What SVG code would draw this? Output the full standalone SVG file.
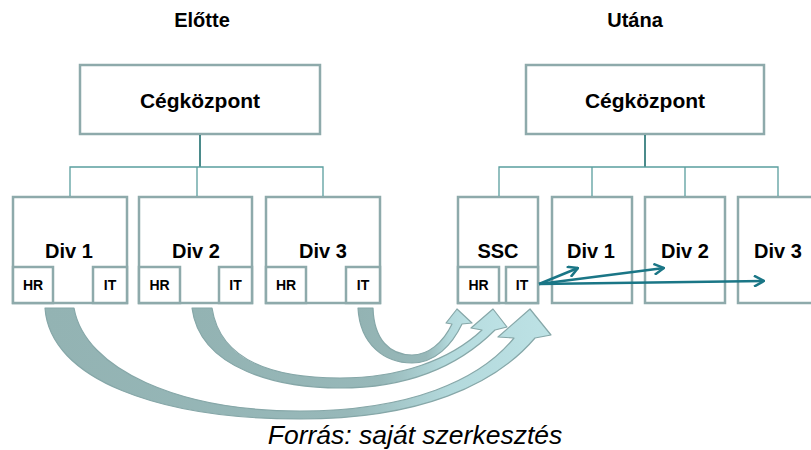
<svg xmlns="http://www.w3.org/2000/svg" width="811" height="450" viewBox="0 0 811 450">
<style>
.box{fill:#fff;stroke:#8eaaab;stroke-width:2.5}
.t{font-family:"Liberation Sans",Arial,sans-serif;font-weight:bold;text-anchor:middle;fill:#000}
.big{font-size:21px}
.div{font-size:20px}
.sm{font-size:14px}
.title{font-size:20px}
.con{fill:none;stroke:#5a9e9e;stroke-width:1.3}
.stem{fill:none;stroke:#1e6e6e;stroke-width:1.6}
.ar{fill:none;stroke:#1a7686;stroke-width:2.5;marker-end:url(#chev)}
.blk{stroke:#86a7a8;stroke-width:1.2;stroke-linejoin:round}
</style>
<defs>
<marker id="chev" viewBox="0 0 12 12" refX="11" refY="6" markerWidth="12" markerHeight="12" markerUnits="userSpaceOnUse" orient="auto">
<path d="M1,0.5 L11,6 L1,11.5" fill="none" stroke="#1a7686" stroke-width="2.5"/>
</marker>
<linearGradient id="g" x1="0" y1="0" x2="1" y2="0">
<stop offset="0" stop-color="#93b3b3"/>
<stop offset="0.6" stop-color="#97b8b9"/>
<stop offset="0.8" stop-color="#b3d9dc"/>
<stop offset="1" stop-color="#bde2e5"/>
</linearGradient>
</defs>
<rect width="811" height="450" fill="#fff"/>
<text class="t title" x="202" y="27">Előtte</text>
<text class="t title" x="635" y="27">Utána</text>

<g id="hq-before">
<rect class="box" x="80" y="65" width="240" height="69"/>
<text class="t big" x="200" y="108">Cégközpont</text>
</g>
<g id="div1-before">
<rect class="box" x="13" y="197" width="114" height="106"/>
<text class="t div" x="69" y="258">Div 1</text>
<g id="div1-hr"><rect class="box" x="13" y="267" width="40" height="36"/><text class="t sm" x="33" y="290">HR</text></g>
<g id="div1-it"><rect class="box" x="93" y="267" width="34" height="36"/><text class="t sm" x="110" y="290">IT</text></g>
</g>
<g id="div2-before">
<rect class="box" x="139" y="197" width="113" height="106"/>
<text class="t div" x="196" y="258">Div 2</text>
<g id="div2-hr"><rect class="box" x="139" y="267" width="41" height="36"/><text class="t sm" x="159.5" y="290">HR</text></g>
<g id="div2-it"><rect class="box" x="219" y="267" width="33" height="36"/><text class="t sm" x="235.5" y="290">IT</text></g>
</g>
<g id="div3-before">
<rect class="box" x="266" y="197" width="114" height="106"/>
<text class="t div" x="323" y="258">Div 3</text>
<g id="div3-hr"><rect class="box" x="266" y="267" width="40" height="36"/><text class="t sm" x="286" y="290">HR</text></g>
<g id="div3-it"><rect class="box" x="346" y="267" width="34" height="36"/><text class="t sm" x="363" y="290">IT</text></g>
</g>

<g id="hq-after">
<rect class="box" x="526" y="65" width="238" height="69"/>
<text class="t big" x="645" y="108">Cégközpont</text>
</g>
<g id="ssc">
<rect class="box" x="458" y="197" width="80" height="106"/>
<text class="t div" x="498" y="258">SSC</text>
<g id="ssc-hr"><rect class="box" x="458" y="267" width="41" height="36"/><text class="t sm" x="478.5" y="290">HR</text></g>
<g id="ssc-it"><rect class="box" x="506" y="267" width="32" height="36"/><text class="t sm" x="522" y="290">IT</text></g>
</g>
<g id="div1-after">
<rect class="box" x="552" y="197" width="80" height="106"/>
<text class="t div" x="591" y="258">Div 1</text>
</g>
<g id="div2-after">
<rect class="box" x="645" y="197" width="80" height="106"/>
<text class="t div" x="685" y="258">Div 2</text>
</g>
<g id="div3-after">
<rect class="box" x="738" y="197" width="80" height="106"/>
<text class="t div" x="778" y="258">Div 3</text>
</g>

<g id="connectors">
<path class="stem" d="M200,135 V167"/>
<path class="con" d="M70,196 V167 H323 V196 M197,167 V196"/>
<path class="stem" d="M645,135 V167"/>
<path class="con" d="M499,196 V167 H778 V196 M592,167 V196 M685,167 V196"/>
<path class="ar" d="M539,284 L578,268"/>
<path class="ar" d="M539,284 L664,268"/>
<path class="ar" d="M539,284 L764,281"/>
<path class="blk" fill="url(#g)" d="M45,308 C50,380 160,419 300,419 C420,419 495,385 535,338 L551,335 L530,309 L498,337 L514,338 C480,380 410,411 300,411 C180,411 85,370 74,308 Z"/>
<path class="blk" fill="url(#g)" d="M192,308 C200,370 280,388 340,388 C410,388 460,365 495,330 L507,327 L493,309 L471,328 L482,330 C450,360 400,378 340,378 C270,378 220,360 212,308 Z"/>
<path class="blk" fill="url(#g)" d="M358,308 C360,345 385,363 412,363 C435,363 452,345 462,324 L472,323 L457,309 L446,323 L452,324 C443,343 428,355 412,355 C390,355 374,340 373,308 Z"/>
</g>

<text x="415" y="444" font-family="'Liberation Sans',Arial,sans-serif" font-style="italic" font-size="26.5" text-anchor="middle" fill="#000">Forrás: saját szerkesztés</text>
</svg>
